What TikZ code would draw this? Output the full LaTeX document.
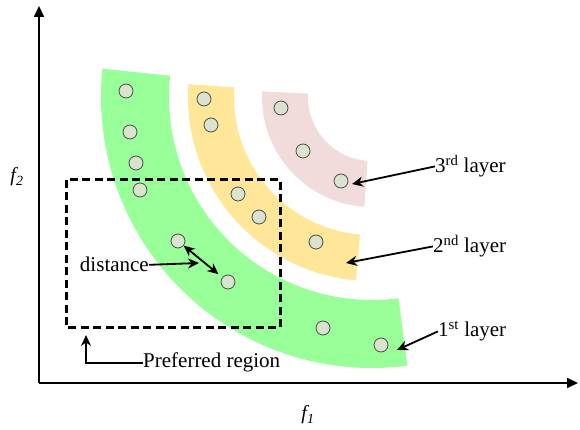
\documentclass[tikz,border=0pt]{standalone}
\usepackage{fontspec}
\setmainfont{Liberation Serif}
\usetikzlibrary{arrows.meta}
\definecolor{bandgreen}{RGB}{153,255,153}
\definecolor{bandyellow}{RGB}{255,230,153}
\definecolor{bandpink}{RGB}{242,220,219}
\definecolor{ptfill}{RGB}{218,227,205}
\begin{document}
\begin{tikzpicture}[x=1pt,y=1pt,
  pt/.style={circle,draw=black!70,fill=ptfill,line width=0.8pt,minimum size=14pt,inner sep=0pt},
  lbl/.style={font=\fontsize{21}{25}\selectfont,inner sep=0pt},
  axlbl/.style={font=\fontsize{20}{24}\selectfont,inner sep=0pt},
  ptr/.style={line width=1.8pt,-{Stealth[length=11pt,width=10pt]}},
  dblptr/.style={line width=1.8pt,{Stealth[length=11pt,width=10pt]}-{Stealth[length=11pt,width=10pt]}},
  axisline/.style={line width=2pt,-{Triangle[length=11pt,width=10pt]}},
  regionbox/.style={line width=3pt,dash pattern=on 8pt off 4.5pt}]
\useasboundingbox (0,0) rectangle (580,430);
\coordinate (C) at (372,333);
% bands
\fill[bandgreen] ([shift={(174:271)}]C) arc[start angle=174,end angle=277.5,radius=271]
  -- ([shift={(277.5:203)}]C) arc[start angle=277.5,end angle=174,radius=203] -- cycle;
\fill[bandyellow] ([shift={(176:184)}]C) arc[start angle=176,end angle=265,radius=184]
  -- ([shift={(265:138)}]C) arc[start angle=265,end angle=176,radius=138] -- cycle;
\fill[bandpink] ([shift={(177:110)}]C) arc[start angle=177,end angle=266,radius=110]
  -- ([shift={(266:64)}]C) arc[start angle=266,end angle=177,radius=64] -- cycle;
% axes
\coordinate (O) at (39,47);
\coordinate (xend) at (578,47);
\coordinate (yend) at (39,424);
\draw[axisline] (O) -- (xend);
\draw[axisline] (O) -- (yend);
\node[axlbl] (f1) at (308,15) {\textit{f\textsubscript{1}}};
\node[axlbl] (f2) at (17,253) {\textit{f\textsubscript{2}}};
% preferred region
\draw[regionbox] (66,250) rectangle (280,102);
% points
\node[pt] (g1) at (126,339) {};
\node[pt] (g2) at (130,298) {};
\node[pt] (g3) at (136,267) {};
\node[pt] (g4) at (140,240) {};
\node[pt] (g5) at (178,189) {};
\node[pt] (g6) at (228,148) {};
\node[pt] (g7) at (323,102) {};
\node[pt] (g8) at (381,85) {};
\node[pt] (y1) at (204,331) {};
\node[pt] (y2) at (211,305) {};
\node[pt] (y3) at (238,236) {};
\node[pt] (y4) at (259,213) {};
\node[pt] (y5) at (316,188) {};
\node[pt] (p1) at (281,322) {};
\node[pt] (p2) at (303,279) {};
\node[pt] (p3) at (341,249) {};
% labels
\node[lbl,anchor=base west] (lab3) at (435,257) {3\textsuperscript{rd} layer};
\node[lbl,anchor=base west] (lab2) at (433,177) {2\textsuperscript{nd} layer};
\node[lbl,anchor=base west] (lab1) at (438,93) {1\textsuperscript{st} layer};
\node[lbl,anchor=base east] (dist) at (149,158) {distance};
\node[lbl,anchor=base west] (pref) at (143,62) {Preferred region};
\coordinate (t3) at (352,246);
\coordinate (t2) at (346,167);
\coordinate (t1) at (397,80);
\coordinate (td) at (199,167);
\coordinate (tp) at (86,95);
\draw[ptr] (lab3.west) -- (t3);
\draw[ptr] (lab2.west) -- (t2);
\draw[ptr] (lab1.west) -- (t1);
\draw[ptr] (dist.east) -- (td);
\draw[dblptr,shorten >=5pt] (g5) -- (g6);
\draw[ptr] (pref.west) -| (tp);
\end{tikzpicture}
\end{document}
